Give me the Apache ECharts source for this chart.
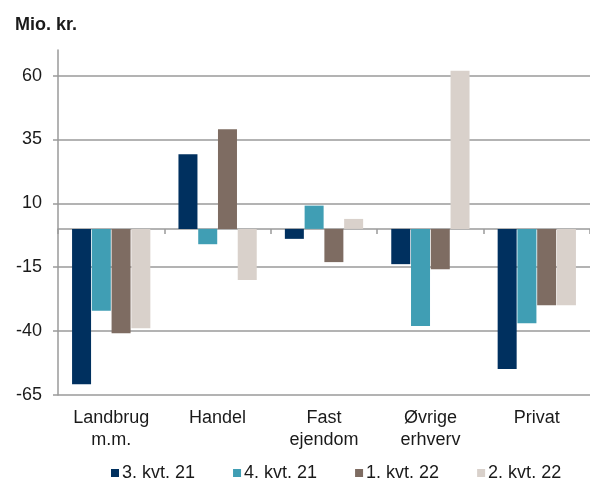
<!DOCTYPE html>
<html>
<head>
<meta charset="utf-8">
<script src="https://cdn.jsdelivr.net/npm/echarts@6/dist/echarts.min.js"></script>
<style>
  html, body { margin: 0; padding: 0; background: #fff; }
  #main { width: 590px; height: 481px; }
</style>
</head>
<body>
<div id="main"></div>
<script>
// data
const categories = ['Landbrug\nm.m.', 'Handel', 'Fast\nejendom', 'Øvrige\nerhverv', 'Privat']
const seriesNames = ['3. kvt. 21', '4. kvt. 21', '1. kvt. 22', '2. kvt. 22']
const q3_21 = [-60.8, 29.2, -3.9, -13.8, -54.8]
const q4_21 = [-32, -6, 9.1, -38, -36.9]
const q1_22 = [-40.8, 39, -13, -15.8, -29.9]
const q2_22 = [-38.9, -20, 3.9, 61.9, -29.9]
const colors = ['#00305f', '#409eb4', '#7e6c62', '#d9d1cb']

const font = 'Liberation Sans, Arial, sans-serif'
const gray = '#9a9a9a'

var myChart = echarts.init(document.getElementById('main'))
const option = {}
option.animation = false
option.textStyle = { fontFamily: font }
option.title = {
    text: 'Mio. kr.',
    left: 10,
    top: 11,
    textStyle: { fontSize: 18, fontWeight: 'bold', color: '#1a1a1a', fontFamily: font }
}
option.grid = { left: 58, right: -8, top: 50, bottom: 86 }
option.legend = {
    data: seriesNames,
    left: 106,
    top: 459,
    itemWidth: 8,
    itemHeight: 8,
    itemGap: 38,
    icon: 'rect',
    textStyle: { fontSize: 18, color: '#1a1a1a', fontFamily: font, padding: [0, 0, 0, -2] }
}
option.xAxis = [
    {
        // labels along the bottom edge
        type: 'category',
        data: categories,
        position: 'bottom',
        axisLine: { show: false, onZero: false },
        axisTick: { show: false },
        axisLabel: { fontSize: 18, color: '#1a1a1a', margin: 12, lineHeight: 22, fontFamily: font }
    },
    {
        // line + ticks on zero
        type: 'category',
        data: categories,
        position: 'bottom',
        axisLine: { show: true, onZero: true, lineStyle: { color: gray, width: 1.5 } },
        axisTick: { show: true, length: 5, lineStyle: { color: gray, width: 1.5 } },
        axisLabel: { show: false }
    }
]
option.yAxis = {
    type: 'value',
    min: -65,
    max: 70,
    interval: 25,
    axisLine: { show: true, lineStyle: { color: gray, width: 1.5 } },
    axisTick: { show: true, length: 5, lineStyle: { color: gray, width: 1.5 } },
    axisLabel: { fontSize: 18, color: '#1a1a1a', margin: 16, showMaxLabel: false, fontFamily: font },
    splitLine: { show: true, showMaxLine: false, lineStyle: { color: gray, width: 1.5 } }
}
var lists = [q3_21, q4_21, q1_22, q2_22]
var a = []
for (var i = 0; i < lists.length; i++) {
    a.push({
        name: seriesNames[i],
        type: 'bar',
        xAxisIndex: 0,
        data: lists[i],
        barWidth: 19,
        barGap: '4%',
        itemStyle: { color: colors[i] }
    })
}
option.series = a
myChart.setOption(option)
</script>
</body>
</html>
